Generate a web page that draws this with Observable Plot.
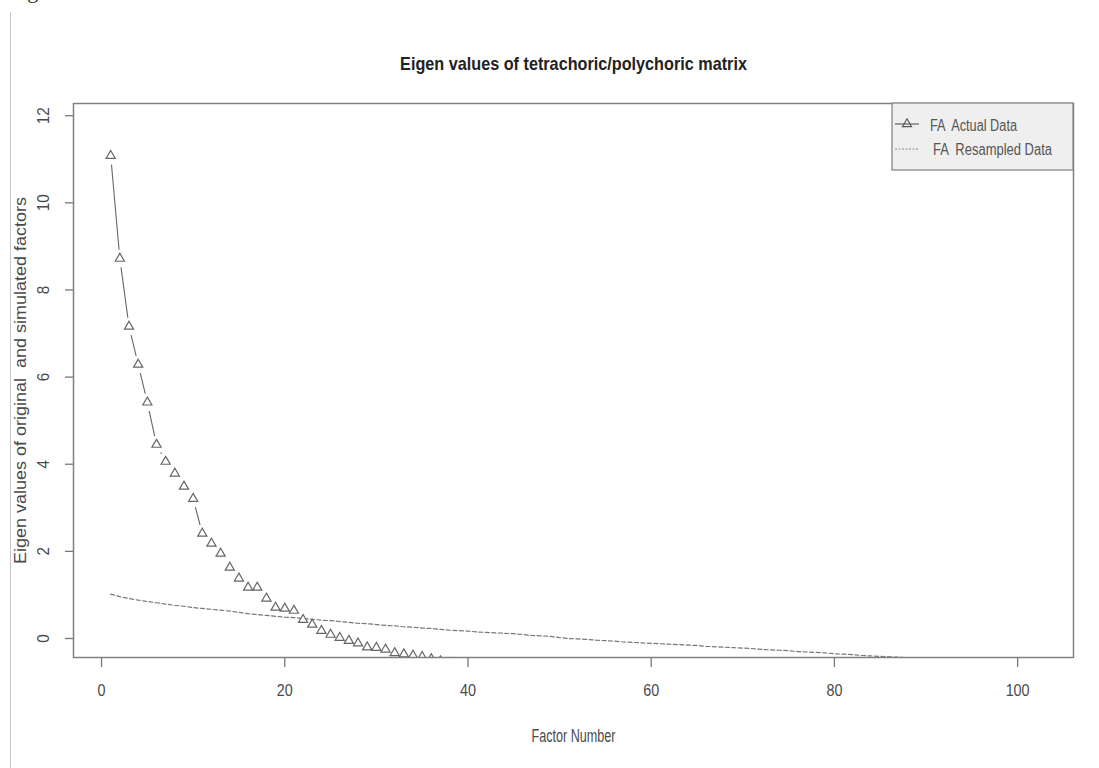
<!DOCTYPE html>
<html><head><meta charset="utf-8">
<script src="https://cdn.jsdelivr.net/npm/d3@7"></script>
<script src="https://cdn.jsdelivr.net/npm/@observablehq/plot@0.6"></script>
<style>
body{margin:0;background:#fff;}
#wrap{position:relative;width:1099px;height:768px;overflow:hidden;font-family:"Liberation Sans",Arial,sans-serif;background:#fff;}
#vline{position:absolute;left:10px;top:12px;width:1px;height:760px;background:#c8c8c8;}
#fig{position:absolute;left:9px;top:-22px;font:22px "Liberation Serif",serif;color:#333;white-space:nowrap;}
#chart{position:absolute;left:0;top:0;}
#legend{position:absolute;left:0;top:0;pointer-events:none;}
</style></head><body>
<div id="wrap"><div id="fig">Figure 3</div><div id="vline"></div><div id="chart"></div><svg id="legend" width="1099" height="768"></svg></div>
<script>
// ---- data ----
const actualEigen = [11.08, 8.72, 7.16, 6.29, 5.42, 4.45, 4.06, 3.79, 3.49, 3.21,
  2.41, 2.18, 1.95, 1.63, 1.38, 1.17, 1.17, 0.92, 0.71, 0.69,
  0.64, 0.43, 0.32, 0.18, 0.09, 0.02, -0.05, -0.11, -0.20, -0.21,
  -0.25, -0.33, -0.36, -0.39, -0.42, -0.47, -0.52, -0.56, -0.60, -0.63];
const resampledEigen = [1.02, 0.96, 0.92, 0.88, 0.85, 0.82, 0.79, 0.76, 0.74, 0.71,
  0.69, 0.67, 0.65, 0.63, 0.60, 0.57, 0.55, 0.53, 0.51, 0.49,
  0.48, 0.46, 0.44, 0.42, 0.41, 0.39, 0.37, 0.35, 0.34, 0.32,
  0.30, 0.29, 0.27, 0.26, 0.24, 0.23, 0.21, 0.19, 0.18, 0.17,
  0.15, 0.14, 0.13, 0.12, 0.11, 0.09, 0.07, 0.06, 0.05, 0.02,
  0.00, -0.01, -0.02, -0.04, -0.05, -0.06, -0.08, -0.09, -0.10, -0.11,
  -0.12, -0.13, -0.14, -0.15, -0.16, -0.18, -0.19, -0.20, -0.21, -0.22,
  -0.23, -0.25, -0.26, -0.27, -0.28, -0.30, -0.31, -0.32, -0.33, -0.35,
  -0.36, -0.37, -0.39, -0.40, -0.41, -0.42, -0.43, -0.44, -0.46, -0.47,
  -0.48, -0.49, -0.50, -0.51, -0.52, -0.53, -0.54, -0.55, -0.56, -0.57,
  -0.58, -0.60];
const xTicks = [0, 20, 40, 60, 80, 100];
const yTicks = [0, 2, 4, 6, 8, 10, 12];
const titleText = "Eigen values of tetrachoric/polychoric matrix";
const xLabelText = "Factor Number";
const yLabelText = "Eigen values of original  and simulated factors";
const legendLabels = ["FA  Actual Data", " FA  Resampled Data"];

const actual = actualEigen.map((v, i) => ({f: i + 1, v}));
const resampled = resampledEigen.map((v, i) => ({f: i + 1, v}));

const ink = "#4a4a4a";
const plot = Plot.plot({
  width: 1099, height: 768,
  marginLeft: 73, marginRight: 26, marginTop: 103, marginBottom: 111,
  style: {fontFamily: '"Liberation Sans", Arial, sans-serif', background: "transparent", overflow: "visible"},
  x: {domain: [-3.06, 106.1]},
  y: {domain: [-0.436, 12.28]},
  marks: [
    Plot.line(actual, {x: "f", y: "v", stroke: "#666", strokeWidth: 1.1, clip: true}),
    Plot.dot(actual, {x: "f", y: "v", r: 9, fill: "white", stroke: null, clip: true}),
    Plot.line(resampled, {x: "f", y: "v", stroke: "#777", strokeWidth: 1.2, strokeDasharray: "4,2.5", clip: true}),
    Plot.dot(actual, {x: "f", y: "v", symbol: "triangle", r: 3.4, stroke: "#666", fill: "white", strokeWidth: 1.2, clip: true}),
    Plot.axisX({ticks: xTicks, tickSize: 10, tickFormat: () => "", label: null, stroke: "#777", strokeWidth: 1.3}),
    Plot.axisY({ticks: yTicks, tickSize: 8, tickFormat: () => "", label: null, stroke: "#777", strokeWidth: 1.3}),
    Plot.text(xTicks, {x: d => d, text: d => String(d), frameAnchor: "bottom", lineAnchor: "middle", textAnchor: "middle", dy: 33, fontSize: 17, fill: ink}),
    Plot.text(yTicks, {y: d => d, text: d => String(d), frameAnchor: "left", lineAnchor: "middle", textAnchor: "middle", dx: -30, rotate: -90, fontSize: 16, fill: ink}),
    Plot.text([titleText], {text: d => d, frameAnchor: "top", lineAnchor: "middle", dy: -39, fontSize: 18, fontWeight: "bold", fill: "#222"}),
    Plot.text([xLabelText], {text: d => d, frameAnchor: "bottom", lineAnchor: "middle", dy: 79, fontSize: 18, fill: ink}),
    Plot.text([yLabelText], {text: d => d, frameAnchor: "left", lineAnchor: "middle", textAnchor: "middle", dx: -53, rotate: -90, fontSize: 16.5, fill: ink}),
    Plot.frame({stroke: "#808080", strokeWidth: 1.5})
  ]
});
document.getElementById("chart").appendChild(plot);

// squeeze texts along their own direction to the widths seen in the reference
function targetLength(t) {
  const s = t.textContent;
  const tr = t.getAttribute("transform") || "";
  if (s === titleText) return 347;
  if (s === xLabelText) return 84;
  if (s === yLabelText) return 367;
  if (/^\d+$/.test(s)) return /rotate/.test(tr) ? s.length * 8.5 : s.length * 8;
  return null;
}
plot.querySelectorAll("text").forEach(t => {
  const target = targetLength(t);
  if (target == null) return;
  let w = 0;
  try { w = t.getComputedTextLength(); } catch (e) { w = 0; }
  if (!w) return;
  const k = target / w;
  const tr = t.getAttribute("transform") || "";
  t.setAttribute("transform", `${tr} scale(${k.toFixed(4)},1)`.trim());
});

// ---- legend box (top-right, inside the frame) ----
const lg = d3.select("#legend");
lg.append("rect").attr("x", 892).attr("y", 103).attr("width", 181).attr("height", 67)
  .attr("fill", "#efefef").attr("stroke", "#888").attr("stroke-width", 1.3);
lg.append("line").attr("x1", 895).attr("x2", 919).attr("y1", 124).attr("y2", 124)
  .attr("stroke", "#555").attr("stroke-width", 1.1);
lg.append("path").attr("d", d3.symbol(d3.symbolTriangle, 36)()).attr("transform", "translate(907,124)")
  .attr("fill", "none").attr("stroke", "#555").attr("stroke-width", 1.1);
lg.append("line").attr("x1", 895).attr("x2", 919).attr("y1", 149).attr("y2", 149)
  .attr("stroke", "#888").attr("stroke-width", 1).attr("stroke-dasharray", "2,1.5");
const lx = [930, 933], ly = [131, 155], lw = [87, 119];
legendLabels.forEach((s, i) => {
  lg.append("text").attr("x", lx[i]).attr("y", ly[i]).text(s.trim())
    .attr("font-family", '"Liberation Sans", Arial, sans-serif').attr("font-size", 16)
    .attr("fill", "#555").attr("textLength", lw[i]).attr("lengthAdjust", "spacingAndGlyphs")
    .style("white-space", "pre");
});
</script>
</body></html>
